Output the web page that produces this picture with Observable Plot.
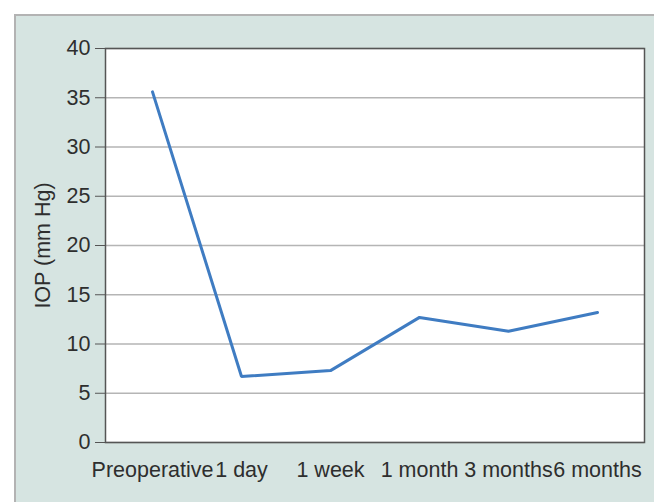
<!DOCTYPE html>
<html>
<head>
<meta charset="utf-8">
<script src="https://cdn.jsdelivr.net/npm/d3@7"></script>
<script src="https://cdn.jsdelivr.net/npm/@observablehq/plot@0.6"></script>
<style>
  html, body { margin: 0; padding: 0; background: #ffffff; }
  #wrap { position: relative; width: 654px; height: 502px; overflow: hidden; background: #ffffff; }
  #panel { position: absolute; left: 14px; top: 14px; width: 700px; height: 560px;
           background: #d6e4e1; border: 2px solid #b3b3b3; box-sizing: border-box; }
  #chart { position: absolute; left: 0; top: 0; }
  #chart svg { background: transparent !important; }
</style>
</head>
<body>
<div id="wrap"><div id="panel"></div><div id="chart"></div></div>
<script>
const categories = ["Preoperative", "1 day", "1 week", "1 month", "3 months", "6 months"];
const iop = [35.6, 6.7, 7.3, 12.7, 11.3, 13.2];
const yTicks = [0, 5, 10, 15, 20, 25, 30, 35, 40];
const yLabel = "IOP (mm Hg)";

const data = categories.map((c, i) => ({ period: c, value: iop[i] }));

const chart = Plot.plot({
  width: 654,
  height: 502,
  marginLeft: 105,
  marginTop: 48,
  marginRight: 10,
  marginBottom: 60,
  style: { background: "transparent", fontFamily: "'Liberation Sans', Arial, sans-serif", fontSize: "21.5px", color: "#2e2e2e" },
  x: { type: "point", domain: categories, padding: 0.5 },
  y: { domain: [0, 40], ticks: yTicks },
  marks: [
    Plot.frame({ fill: "#ffffff", stroke: "none" }),
    Plot.gridY(yTicks, { stroke: "#b5b5b5", strokeOpacity: 1, strokeWidth: 1.5 }),
    Plot.frame({ stroke: "#555555", strokeWidth: 1.5 }),
    Plot.axisY({ ticks: yTicks, tickSize: 10, tickPadding: 5, label: null, stroke: "#555555", fontSize: 21.5, tickFormat: d => String(d) }),
    Plot.axisX({ tickSize: 0, tickPadding: 19, label: null, fontSize: 21.5 }),
    Plot.text([yLabel], { frameAnchor: "left", dx: -62, rotate: -90, text: d => d, textAnchor: "middle", lineAnchor: "middle", fontSize: 21.5, fill: "#2e2e2e" }),
    Plot.line(data, { x: "period", y: "value", stroke: "#3f7cc2", strokeWidth: 3, strokeLinejoin: "miter" })
  ]
});
document.getElementById("chart").appendChild(chart);
</script>
</body>
</html>
